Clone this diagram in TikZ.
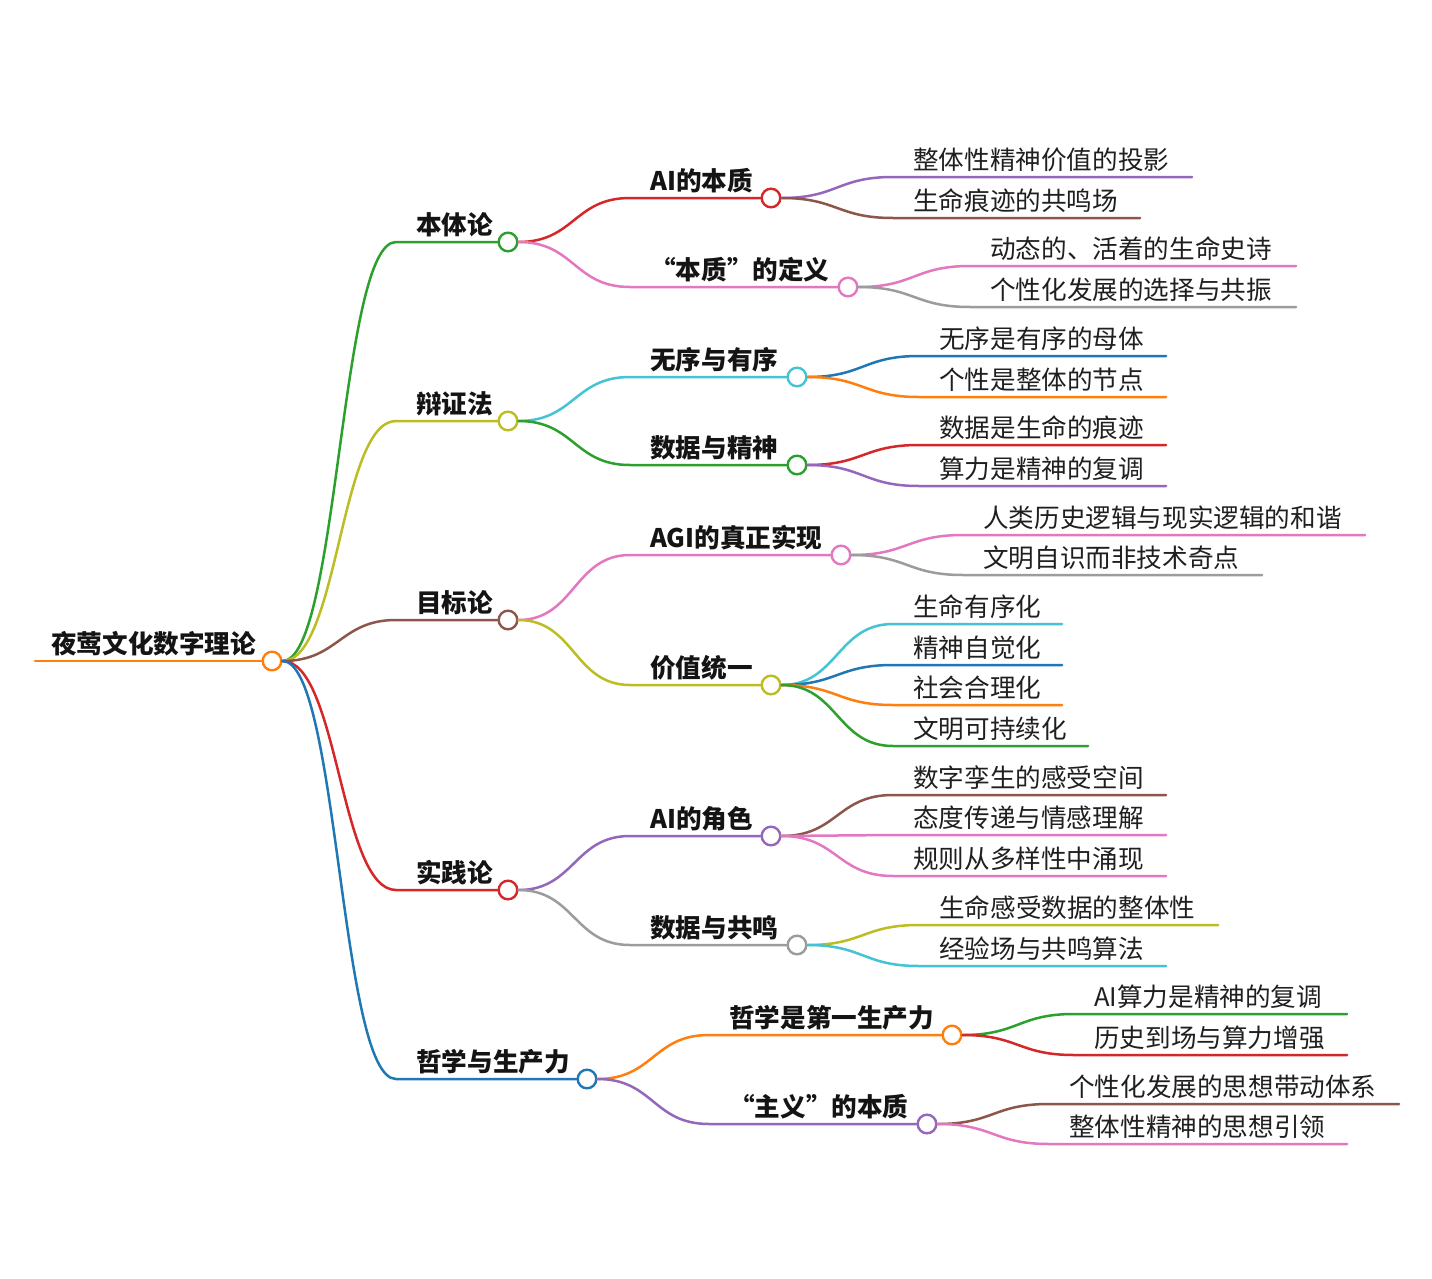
\documentclass[tikz,border=0pt]{standalone}
\usepackage{fontspec}
\newfontfamily\cjk{Noto Sans CJK SC}
\usetikzlibrary{calc}
\definecolor{cO}{HTML}{FF7F0E}
\definecolor{cG}{HTML}{2CA02C}
\definecolor{cR}{HTML}{D62728}
\definecolor{cB}{HTML}{1F77B4}
\definecolor{cP}{HTML}{9467BD}
\definecolor{cBr}{HTML}{8C564B}
\definecolor{cPk}{HTML}{E377C2}
\definecolor{cGr}{HTML}{9C9C9C}
\definecolor{cOl}{HTML}{BCBD22}
\definecolor{cC}{HTML}{45C3D6}
\tikzset{
  mm/.style={line width=2.5pt, line cap=round},
  dot/.style={circle, minimum size=18.6pt, inner sep=0pt, line width=2.4pt, fill=white},
  itext/.style={anchor=base west, inner sep=0pt, text=black!92,
    font=\cjk\bfseries\fontsize{25.6pt}{30pt}\selectfont},
  ltext/.style={anchor=base west, inner sep=0pt, text=black!88,
    font=\cjk\fontsize{25.6pt}{30pt}\selectfont},
}
\newcommand\mmInode[6]{%
  \coordinate (#1-s) at (#3,#4);
  \node[dot,draw=#2] (#1) at (#5,#4) {};
  \node[itext] (#1-t) at ([shift={(20pt,8pt)}]#1-s) {#6};}
\newcommand\mmLeaf[6]{%
  \coordinate (#1-s) at (#3,#4);
  \coordinate (#1-e) at (#5,#4);
  \node[ltext] (#1-t) at ([shift={(20pt,8pt)}]#1-s) {#6};}
\newcommand\mmIlink[3]{\draw[mm,draw=#1] (#2.east) .. controls ($(#2.east)+(56,0)$) and ($(#3-s)+(-56,0)$) .. (#3-s) -- (#3.west);}
\newcommand\mmLlink[3]{\draw[mm,draw=#1] (#2.east) .. controls ($(#2.east)+(56,0)$) and ($(#3-s)+(-56,0)$) .. (#3-s) -- (#3-e);}
\begin{document}
\begin{tikzpicture}[x=1pt,y=-1pt]
\fill[white] (0,0) rectangle (1432,1279);
\useasboundingbox (0,0) rectangle (1432,1279);
% root
\coordinate (r-s) at (35,661);
\node[dot,draw=cO] (r) at (272,661) {};
\node[itext] (r-t) at ([shift={(16pt,8pt)}]r-s) {夜莺文化数字理论};
\draw[mm,draw=cO] (r-s) -- (r.west);
% level 1
\mmInode{a}{cG}{396}{242}{508}{本体论}
\mmInode{b}{cOl}{396}{421}{508}{辩证法}
\mmInode{c}{cBr}{396}{620}{508}{目标论}
\mmInode{d}{cR}{396}{890}{508}{实践论}
\mmInode{e}{cB}{396}{1079}{587}{哲学与生产力}
% level 2
\mmInode{a1}{cR}{630}{198}{771}{AI的本质}
\mmInode{a2}{cPk}{630}{287}{848}{“本质”的定义}
\mmInode{b1}{cC}{630}{377}{797}{无序与有序}
\mmInode{b2}{cG}{630}{465}{797}{数据与精神}
\mmInode{c1}{cPk}{630}{555}{841}{AGI的真正实现}
\mmInode{c2}{cOl}{630}{685}{771}{价值统一}
\mmInode{d1}{cP}{630}{836}{771}{AI的角色}
\mmInode{d2}{cGr}{630}{945}{797}{数据与共鸣}
\mmInode{e1}{cO}{709}{1035}{952}{哲学是第一生产力}
\mmInode{e2}{cP}{709}{1124}{927}{“主义”的本质}
% leaves
\mmLeaf{a1x}{cP}{893}{177}{1192}{整体性精神价值的投影}
\mmLeaf{a1y}{cBr}{893}{218}{1140}{生命痕迹的共鸣场}
\mmLeaf{a2x}{cPk}{970}{266}{1296}{动态的、活着的生命史诗}
\mmLeaf{a2y}{cGr}{970}{307}{1296}{个性化发展的选择与共振}
\mmLeaf{b1x}{cB}{919}{356}{1166}{无序是有序的母体}
\mmLeaf{b1y}{cO}{919}{397}{1166}{个性是整体的节点}
\mmLeaf{b2x}{cR}{919}{445}{1166}{数据是生命的痕迹}
\mmLeaf{b2y}{cP}{919}{486}{1166}{算力是精神的复调}
\mmLeaf{c1x}{cPk}{963}{535}{1365}{人类历史逻辑与现实逻辑的和谐}
\mmLeaf{c1y}{cGr}{963}{575}{1262}{文明自识而非技术奇点}
\mmLeaf{c2w}{cC}{893}{624}{1062}{生命有序化}
\mmLeaf{c2x}{cB}{893}{665}{1062}{精神自觉化}
\mmLeaf{c2y}{cO}{893}{705}{1062}{社会合理化}
\mmLeaf{c2z}{cG}{893}{746}{1088}{文明可持续化}
\mmLeaf{d1x}{cBr}{893}{795}{1166}{数字孪生的感受空间}
\mmLeaf{d1y}{cPk}{893}{835}{1166}{态度传递与情感理解}
\mmLeaf{d1z}{cPk}{893}{876}{1166}{规则从多样性中涌现}
\mmLeaf{d2x}{cOl}{919}{925}{1218}{生命感受数据的整体性}
\mmLeaf{d2y}{cC}{919}{966}{1166}{经验场与共鸣算法}
\mmLeaf{e1x}{cG}{1074}{1014}{1347}{AI算力是精神的复调}
\mmLeaf{e1y}{cR}{1074}{1055}{1347}{历史到场与算力增强}
\mmLeaf{e2x}{cBr}{1049}{1104}{1399}{个性化发展的思想带动体系}
\mmLeaf{e2y}{cPk}{1049}{1144}{1347}{整体性精神的思想引领}
% links root -> level 1
\mmIlink{cG}{r}{a}
\mmIlink{cOl}{r}{b}
\mmIlink{cBr}{r}{c}
\mmIlink{cR}{r}{d}
\mmIlink{cB}{r}{e}
% level 1 -> level 2
\mmIlink{cR}{a}{a1}
\mmIlink{cPk}{a}{a2}
\mmIlink{cC}{b}{b1}
\mmIlink{cG}{b}{b2}
\mmIlink{cPk}{c}{c1}
\mmIlink{cOl}{c}{c2}
\mmIlink{cP}{d}{d1}
\mmIlink{cGr}{d}{d2}
\mmIlink{cO}{e}{e1}
\mmIlink{cP}{e}{e2}
% level 2 -> leaves
\mmLlink{cP}{a1}{a1x}
\mmLlink{cBr}{a1}{a1y}
\mmLlink{cPk}{a2}{a2x}
\mmLlink{cGr}{a2}{a2y}
\mmLlink{cB}{b1}{b1x}
\mmLlink{cO}{b1}{b1y}
\mmLlink{cR}{b2}{b2x}
\mmLlink{cP}{b2}{b2y}
\mmLlink{cPk}{c1}{c1x}
\mmLlink{cGr}{c1}{c1y}
\mmLlink{cC}{c2}{c2w}
\mmLlink{cB}{c2}{c2x}
\mmLlink{cO}{c2}{c2y}
\mmLlink{cG}{c2}{c2z}
\mmLlink{cBr}{d1}{d1x}
\mmLlink{cPk}{d1}{d1y}
\mmLlink{cPk}{d1}{d1z}
\mmLlink{cOl}{d2}{d2x}
\mmLlink{cC}{d2}{d2y}
\mmLlink{cG}{e1}{e1x}
\mmLlink{cR}{e1}{e1y}
\mmLlink{cBr}{e2}{e2x}
\mmLlink{cPk}{e2}{e2y}
\end{tikzpicture}
\end{document}
